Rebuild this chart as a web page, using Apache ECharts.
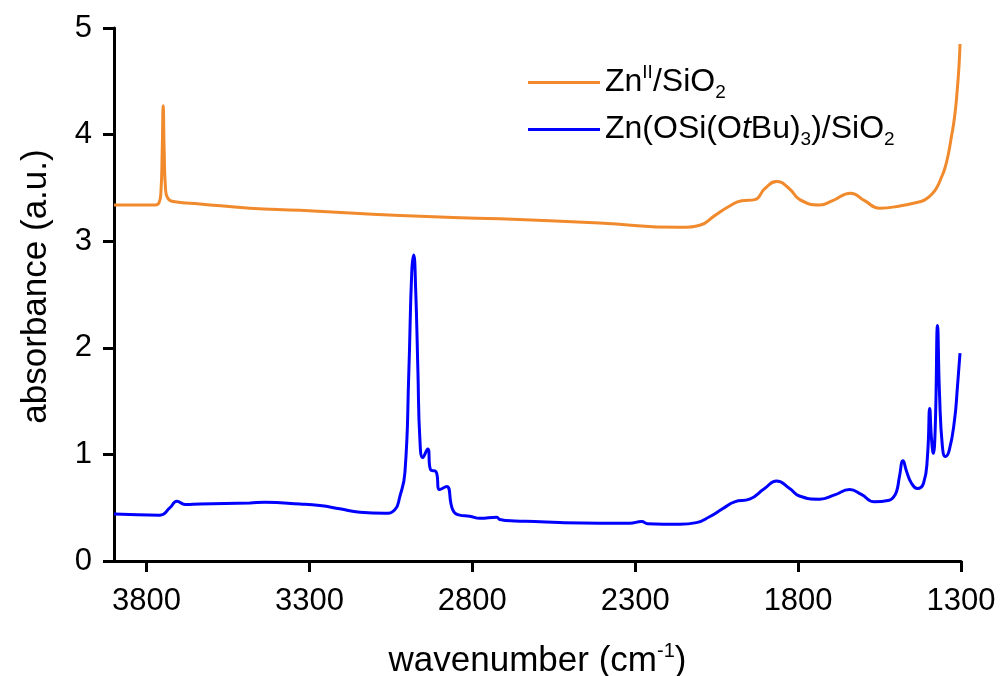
<!DOCTYPE html>
<html>
<head>
<meta charset="utf-8">
<script src="https://cdn.jsdelivr.net/npm/echarts@6/dist/echarts.min.js"></script>
<style>
  html, body { margin: 0; padding: 0; background: #fff; }
  #chart { width: 1003px; height: 676px; }
</style>
</head>
<body>
<div id="chart"></div>
<script>
// Zn(II)/SiO2 spectrum: wavenumber (cm-1), absorbance
const znWave = [3900, 3774, 3762, 3756, 3752, 3749, 3746, 3742, 3736, 3713, 3636, 3483, 3329, 3022, 2716,
  2409, 2163, 2102, 2056, 2010, 1973, 1933, 1903, 1866, 1826, 1795, 1734, 1694, 1639, 1596, 1550,
  1488, 1427, 1410, 1390, 1375, 1360, 1350, 1340, 1330, 1320, 1312, 1306, 1303]
const znAbs = [3.34, 3.34, 3.36, 3.46, 3.85, 4.27, 3.85, 3.5, 3.41, 3.37, 3.35, 3.31, 3.29, 3.24, 3.21,
  3.17, 3.13, 3.15, 3.24, 3.33, 3.38, 3.39, 3.49, 3.56, 3.49, 3.39, 3.34, 3.38, 3.45, 3.38, 3.31,
  3.33, 3.37, 3.39, 3.44, 3.50, 3.60, 3.68, 3.80, 3.97, 4.16, 4.40, 4.65, 4.85]

// Zn(OSi(OtBu)3)/SiO2 spectrum
const tbWave = [3900, 3759, 3728, 3707, 3682, 3636, 3483, 3437, 3329, 3268, 3207, 3145, 3069, 3038, 3023,
  3007, 2995, 2986, 2980, 2974, 2967, 2961, 2952, 2937, 2928, 2912, 2900, 2879, 2860, 2839, 2808,
  2777, 2725, 2716, 2670, 2609, 2532, 2409, 2317, 2280, 2262, 2164, 2112, 2072, 2032, 1995, 1949,
  1903, 1866, 1826, 1796, 1734, 1688, 1642, 1606, 1566, 1520, 1510, 1498, 1489, 1478, 1467, 1452,
  1434, 1415, 1403, 1396, 1391, 1385, 1379, 1372, 1366, 1357, 1348, 1336, 1320, 1311, 1303]
const tbAbs = [0.44, 0.43, 0.50, 0.56, 0.53, 0.535, 0.545, 0.55, 0.535, 0.52, 0.49, 0.457, 0.447, 0.48, 0.60,
  0.83, 1.77, 2.71, 2.87, 2.55, 1.77, 1.14, 0.97, 1.05, 0.855, 0.84, 0.67, 0.70, 0.48, 0.43, 0.42,
  0.40, 0.41, 0.39, 0.375, 0.37, 0.36, 0.355, 0.355, 0.37, 0.35, 0.345, 0.36, 0.415, 0.49, 0.555, 0.58,
  0.68, 0.75, 0.68, 0.61, 0.58, 0.62, 0.67, 0.625, 0.555, 0.57, 0.59, 0.65, 0.79, 0.94, 0.84, 0.73,
  0.68, 0.73, 0.98, 1.43, 1.165, 1.01, 1.26, 2.21, 1.57, 1.07, 0.98, 1.04, 1.32, 1.63, 1.95]

const xTicks = [3800, 3300, 2800, 2300, 1800, 1300]
const yTicks = [0, 1, 2, 3, 4, 5]

const font = 'Liberation Sans, Arial, sans-serif'
const zip = (xs, ys) => xs.map((x, i) => [x, ys[i]])

const chart = echarts.init(document.getElementById('chart'))
chart.setOption({
  animation: false,
  grid: { left: 114, right: 42, top: 28, bottom: 115, containLabel: false, outerBoundsMode: 'none' },
  legend: {
    orient: 'vertical',
    left: 523,
    top: 58,
    icon: 'rect',
    itemWidth: 72,
    itemHeight: 3,
    itemGap: 8,
    textStyle: {
      fontFamily: font,
      fontSize: 32,
      color: '#000',
      lineHeight: 39,
      rich: {
        sup: { fontFamily: font, fontSize: 19, color: '#000', verticalAlign: 'top', lineHeight: 39 },
        sub: { fontFamily: font, fontSize: 19, color: '#000', verticalAlign: 'bottom', lineHeight: 39 },
        it: { fontFamily: font, fontSize: 32, fontStyle: 'italic', color: '#000', lineHeight: 39 }
      }
    },
    formatter: function (name) {
      if (name === 'zn') return 'Zn{sup|II}/SiO{sub|2}'
      return 'Zn(OSi(O{it|t}Bu){sub|3})/SiO{sub|2}'
    }
  },
  xAxis: {
    type: 'value',
    inverse: true,
    min: 1300,
    max: 3900,
    interval: 500,
    name: 'wavenumber (cm{sup|-1})',
    nameLocation: 'middle',
    nameGap: 80,
    nameTextStyle: {
      fontFamily: font, fontSize: 35, color: '#000', lineHeight: 40,
      rich: { sup: { fontFamily: font, fontSize: 20, color: '#000', verticalAlign: 'top', lineHeight: 40 } }
    },
    axisLine: { lineStyle: { color: '#000', width: 3 } },
    axisTick: { length: 11, lineStyle: { color: '#000', width: 3 } },
    axisLabel: {
      fontFamily: font, fontSize: 31, color: '#000', margin: 25,
      showMinLabel: true, showMaxLabel: false,
      formatter: v => (xTicks.indexOf(v) >= 0 ? String(v) : '')
    },
    splitLine: { show: false }
  },
  yAxis: {
    type: 'value',
    min: 0,
    max: 5,
    interval: 1,
    name: 'absorbance (a.u.)',
    nameLocation: 'middle',
    nameGap: 60,
    nameTextStyle: { fontFamily: font, fontSize: 35, color: '#000', padding: [0, 0, 0, 16] },
    axisLine: { show: true, lineStyle: { color: '#000', width: 3 } },
    axisTick: { show: true, length: 11, lineStyle: { color: '#000', width: 3 } },
    axisLabel: {
      fontFamily: font, fontSize: 31, color: '#000', margin: 22,
      formatter: v => (yTicks.indexOf(v) >= 0 ? String(v) : '')
    },
    splitLine: { show: false }
  },
  series: [
    {
      name: 'zn',
      type: 'line',
      data: zip(znWave, znAbs),
      symbol: 'none',
      smooth: 0.5,
      lineStyle: { color: '#f08a2c', width: 3 },
      itemStyle: { color: '#f08a2c' }
    },
    {
      name: 'tb',
      type: 'line',
      data: zip(tbWave, tbAbs),
      symbol: 'none',
      smooth: 0.5,
      lineStyle: { color: '#0000ff', width: 3 },
      itemStyle: { color: '#0000ff' }
    }
  ]
})
</script>
</body>
</html>
